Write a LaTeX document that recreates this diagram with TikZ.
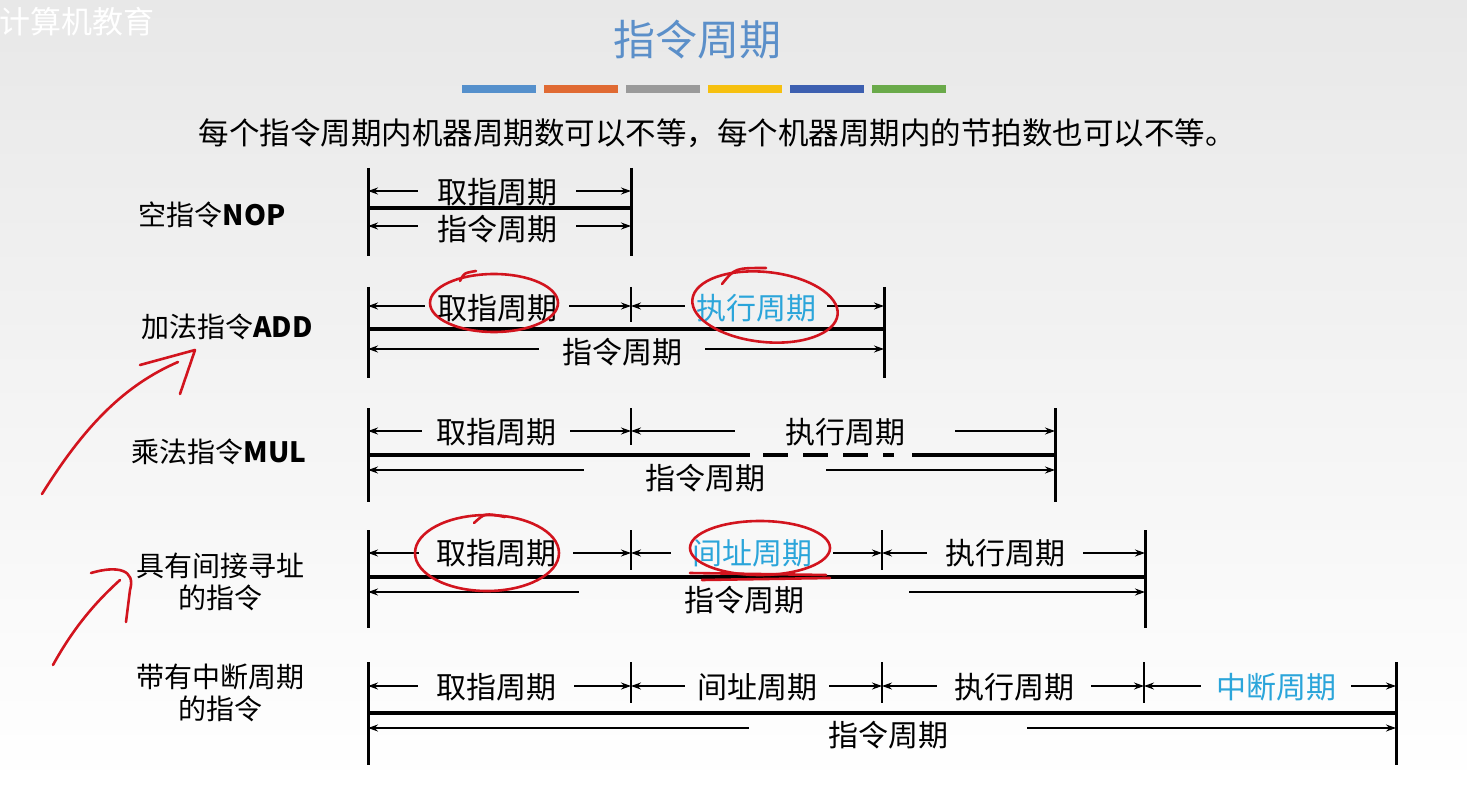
\documentclass[tikz,border=0pt]{standalone}
\usepackage{fontspec}
\newfontfamily\cjk{Noto Sans CJK SC}
\usetikzlibrary{arrows.meta}
\definecolor{titleblue}{HTML}{5B8FC9}
\definecolor{cyc}{HTML}{2BA5DA}
\definecolor{annot}{HTML}{D2141E}
\definecolor{bgtop}{HTML}{E8E8E8}

\begin{document}
\begin{tikzpicture}[x=1pt,y=-1pt,
  font=\cjk\fontsize{30}{34}\selectfont,
  seg/.style={inner ysep=0pt},
  dim/.style={-{Stealth[length=10pt,width=7pt]},line width=1.1pt},
  bar/.style={line width=3.5pt},
  endtick/.style={line width=3pt},
  midtick/.style={line width=2pt},
  rowlabel/.style={font=\cjk\fontsize{28}{32}\selectfont,align=center},
  ink/.style={draw=annot,line width=2.6pt,line cap=round,line join=round}]
\useasboundingbox (0,0) rectangle (1467,786);
\shade[top color=bgtop,bottom color=white] (0,0) rectangle (1467,786);

% heading
\node[anchor=west,text=white,font=\cjk\fontsize{31}{34}\selectfont] (mark) at (-4,22) {计算机教育};
\node[text=titleblue,font=\cjk\fontsize{42}{46}\selectfont] (title) at (697,40) {指令周期};
\foreach \c [count=\i from 0] in {5590CC,E06A33,9A9A9A,F6C00F,3D5FB0,6AAA4A}{
  \definecolor{stripe}{HTML}{\c}
  \fill[stripe] ({462+82*\i},85) rectangle ++(74,8);
}
\node[font=\cjk\fontsize{30.5}{34}\selectfont] (intro) at (717,133) {每个指令周期内机器周期数可以不等，每个机器周期内的节拍数也可以不等。};

% row labels
\node[rowlabel] (nop) at (212,215) {空指令\textbf{NOP}};
\node[rowlabel] (add) at (227,327) {加法指令\textbf{ADD}};
\node[rowlabel] (mul) at (219,452) {乘法指令\textbf{MUL}};
\node[rowlabel] (ind) at (220,582) {具有间接寻址\\的指令};
\node[rowlabel] (intr) at (220,693) {带有中断周期\\的指令};

% end ticks and bars
\foreach \xr/\ya/\yb in {631/168/256,884/287/378,1055/408/502,1145/530/628,1396/662/765}{
  \draw[endtick] (368,\ya) -- (368,\yb);
  \draw[endtick] (\xr,\ya) -- (\xr,\yb);
}
\draw[bar] (368,208) -- (631,208);
\draw[bar] (368,329) -- (884,329);
\draw[bar] (368,455) -- (750,455);
\draw[bar,dash pattern=on 25pt off 15pt] (763,455) -- (894,455);
\draw[bar] (912,455) -- (1055,455);
\draw[bar] (368,577) -- (1145,577);
\draw[bar] (368,713) -- (1396,713);
\foreach \x/\ya/\yb in {631/287/322,631/408/445,631/530/570,882/530/570,631/662/703,882/662/703,1144/662/703}
  \draw[midtick] (\x,\ya) -- (\x,\yb);

% spans
\foreach \n/\xl/\xr/\yy/\dy/\xt/\txt/\col/\gap in {
  a1/368/631/191/1/497/取指周期/black/19, a0/368/631/226/3/497/指令周期/black/19,
  b1/368/631/306/2/497/取指周期/black/12, b2/631/884/306/2/756/执行周期/cyc/11,
  b0/368/884/349/3/622/指令周期/black/23,
  c1/368/631/431/1/496/取指周期/black/14, c2/631/1055/431/1/845/执行周期/black/50,
  c0/368/1055/470/8/705/指令周期/black/61,
  d1/368/631/553/0/496/取指周期/black/17, d2/631/882/553/0/752/间址周期/cyc/21,
  d3/882/1145/553/0/1005/执行周期/black/18, d0/368/1145/592/8/744/指令周期/black/105,
  e1/368/631/686/1/496/取指周期/black/18, e2/631/882/686/1/757/间址周期/black/12,
  e3/882/1144/686/1/1014/执行周期/black/17, e4/1144/1396/686/1/1276/中断周期/cyc/15,
  e0/368/1396/728/7/888/指令周期/black/79}{
  \coordinate (\n-l) at (\xl,\yy);
  \coordinate (\n-r) at (\xr,\yy);
  \node[seg,text=\col,inner xsep=\gap] (\n) at (\xt,\yy+\dy) {\txt};
  \draw[dim] (\n.west |- \n-l) -- (\n-l);
  \draw[dim] (\n.east |- \n-r) -- (\n-r);
}

% hand-drawn marks
\draw[ink] (494,303) ellipse [x radius=64,y radius=29];
\draw[ink] (460,281) .. controls (464,273) .. (476,271);
\draw[ink,rotate around={-6:(765,307)}] (765,307) ellipse [x radius=73,y radius=35];
\draw[ink] (722,284) .. controls (735,268) .. (766,268);
\draw[ink] (487,553) ellipse [x radius=72,y radius=38];
\draw[ink] (474,523) .. controls (485,513) .. (505,517);
\draw[ink] (760,548) ellipse [x radius=70,y radius=27];
\draw[ink] (690,573) -- (826,575);
\draw[ink] (702,580) -- (830,578);
\draw[ink] (42,494) .. controls (85,425) and (125,385) .. (178,362);
\draw[ink] (140,365) -- (195,350) -- (180,394);
\draw[ink] (53,665) .. controls (75,625) and (98,600) .. (120,580);
\draw[ink] (91,573) .. controls (118,565) and (136,570) .. (130,590) -- (126,622);
\end{tikzpicture}
\end{document}
